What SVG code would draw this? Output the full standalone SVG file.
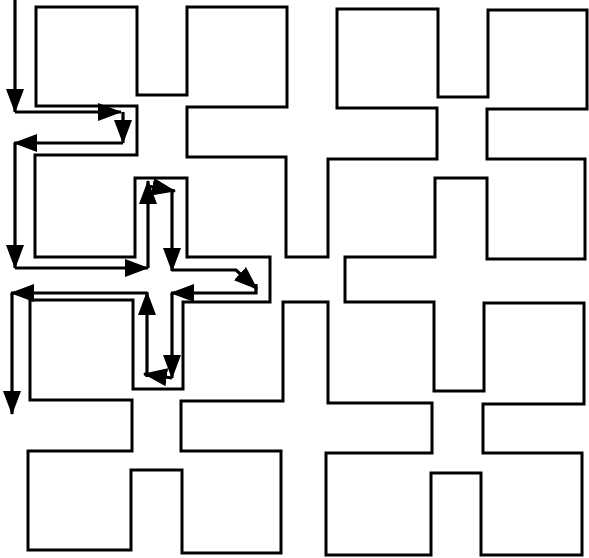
<svg xmlns="http://www.w3.org/2000/svg" width="589" height="558" viewBox="0 0 589 558">
  <style>
    .wall { fill: none; stroke: #000; stroke-width: 3; stroke-linejoin: miter; }
    .arr { fill: none; stroke: #000; stroke-width: 3.2; marker-end: url(#head); }
  </style>
  <defs>
    <marker id="head" markerUnits="userSpaceOnUse" markerWidth="24" markerHeight="18" viewBox="0 0 24 18" refX="23" refY="9" orient="auto">
      <path d="M0,0 L24,9 L0,18 z" fill="#000"/>
    </marker>
  </defs>
  <rect width="589" height="558" fill="#fff"/>
  <g id="maze">
    <polygon class="wall" points="137,155 137,106 36,106 36,7 137,7 137,95 187,95 187,7 287,7 287,107 187,107 187,157 286,157 286,257 328,257 328,159 437,159 437,108 337,108 337,9 438,9 438,97 488,97 488,10 587,10 587,109 487,109 487,159 585,159 585,259 487,259 487,178 435,178 435,257 345,257 345,302 434,302 434,391 484,391 484,303 584,303 584,404 483,404 483,453 582,453 582,555 481,555 481,473 431,473 431,555 326,555 326,453 432,453 432,403 328,403 328,302 283,302 283,401 181,401 181,451 281,451 281,553 182,553 182,470 131,470 131,550 28,550 28,451 132,451 132,400 30,400 30,300 133,300 133,389 183,389 183,302 270,302 270,257 187,257 187,178 135,178 135,257 35,257 35,155"/>
  </g>
  <g id="connectors">
    <path class="arr" d="M15,0 V112"/>
    <path class="arr" d="M15,112 H121"/>
    <path class="arr" d="M123,112 V143"/>
    <path class="arr" d="M123,143 H14"/>
    <path class="arr" d="M15,143 V268"/>
    <path class="arr" d="M15,268 H148"/>
    <path class="arr" d="M148,268 V181"/>
    <path class="arr" d="M148,186 L175,191"/>
    <path class="arr" d="M172,190 V271"/>
    <path class="arr" d="M172,270 H236 L257,289"/>
    <path class="arr" d="M256,284 V293 H171"/>
    <path class="arr" d="M172,293 V378"/>
    <path class="arr" d="M172,378 L144,374"/>
    <path class="arr" d="M147,377 V292"/>
    <path class="arr" d="M147,293 H11"/>
    <path class="arr" d="M12,293 V414"/>
  </g>
</svg>
